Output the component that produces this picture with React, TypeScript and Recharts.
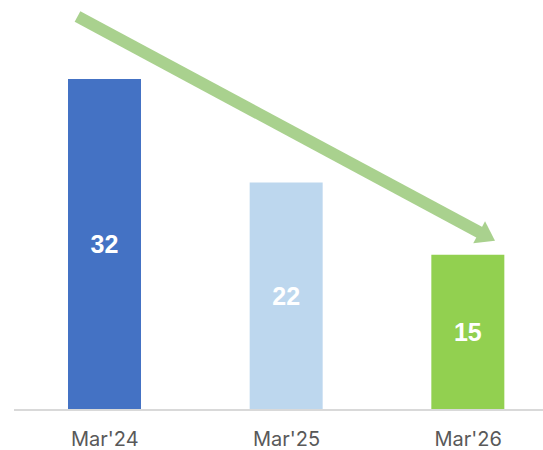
import { BarChart, Bar, XAxis, YAxis, Cell, LabelList } from "recharts";

const periods = ["Mar'24", "Mar'25", "Mar'26"];
const counts = [32, 22, 15];
const barColors = ["#4472C4", "#BDD7EE", "#92D050"];

const data = periods.map((name, i) => ({ name, value: counts[i] }));

// trend arrow drawn over the chart
function TrendArrow() {
  const x1 = 77.5, y1 = 16.5, x2 = 495, y2 = 240.7;
  const len = Math.hypot(x2 - x1, y2 - y1);
  const ux = (x2 - x1) / len, uy = (y2 - y1) / len;
  const headLen = 18, headHalf = 12.5;
  const bx = x2 - ux * headLen, by = y2 - uy * headLen;
  const px = -uy, py = ux;
  const head = `${x2},${y2} ${bx + px * headHalf},${by + py * headHalf} ${bx - px * headHalf},${by - py * headHalf}`;
  return (
    <svg width={543} height={450} style={{ position: "absolute", left: 0, top: 0, pointerEvents: "none" }}>
      <line x1={14} y1={410} x2={543} y2={410} stroke="#d9d9d9" strokeWidth={2} />
      <line x1={x1} y1={y1} x2={bx + ux} y2={by + uy} stroke="#A9D18E" strokeWidth={12} />
      <polygon points={head} fill="#A9D18E" />
    </svg>
  );
}

export default function App() {
  return (
    <div style={{ position: "absolute", left: 0, top: 0, width: 543, height: 450, background: "#fff", overflow: "hidden" }}>
      <BarChart width={543} height={450} data={data} margin={{ top: 48, right: -16, left: 14, bottom: 0 }}>
        <XAxis
          dataKey="name"
          height={40}
          axisLine={false}
          tickLine={false}
          tickSize={0}
          tickMargin={22}
          tick={{ fill: "#595959", fontSize: 20, fontFamily: "Inter" }}
        />
        <YAxis hide domain={[0, 35]} />
        <Bar dataKey="value" barSize={73} isAnimationActive={false}>
          {data.map((d, i) => (
            <Cell key={d.name} fill={barColors[i]} />
          ))}
          <LabelList
            dataKey="value"
            position="center"
            fill="#ffffff"
            fontSize={25}
            fontWeight={700}
            fontFamily="Liberation Sans"
          />
        </Bar>
      </BarChart>
      <TrendArrow />
    </div>
  );
}
